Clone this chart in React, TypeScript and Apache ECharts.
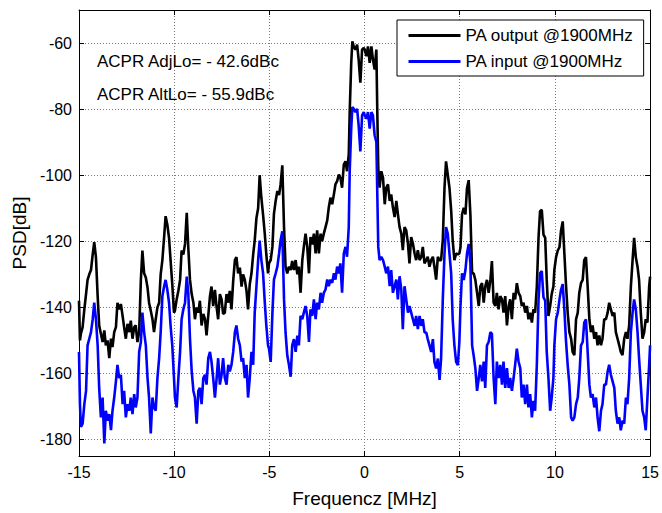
import React, { useEffect, useRef } from "react";
import * as echarts from "echarts";

// Frequency grid (MHz) of the traced samples
const freq = [
  -15.0, -14.95, -14.9, -14.81, -14.72, -14.63, -14.55, -14.46, -14.37, -14.28,
  -14.2, -14.11, -14.02, -13.94, -13.85, -13.76, -13.67, -13.59, -13.5, -13.41,
  -13.32, -13.24, -13.15, -13.06, -12.98, -12.89, -12.8, -12.71, -12.63, -12.54,
  -12.45, -12.36, -12.28, -12.19, -12.1, -12.02, -11.93, -11.84, -11.75, -11.67,
  -11.58, -11.49, -11.4, -11.32, -11.23, -11.14, -11.06, -10.97, -10.88, -10.79,
  -10.71, -10.62, -10.53, -10.45, -10.36, -10.27, -10.19, -10.1, -10.01,
  -9.96, -9.87, -9.78, -9.69, -9.61, -9.52, -9.43, -9.34, -9.26, -9.17,
  -9.08, -8.99, -8.91, -8.82, -8.73, -8.65, -8.56, -8.47, -8.38, -8.3,
  -8.21, -8.12, -8.04, -7.95, -7.86, -7.77, -7.69, -7.6, -7.51, -7.43,
  -7.34, -7.25, -7.16, -7.08, -6.99, -6.9, -6.81, -6.73, -6.64, -6.55,
  -6.46, -6.38, -6.29, -6.2, -6.12, -6.03, -5.94, -5.85, -5.77, -5.68,
  -5.59, -5.51, -5.42, -5.33, -5.24, -5.16, -5.07,
  -5.02, -4.93, -4.84, -4.76, -4.67, -4.58, -4.49, -4.41, -4.32, -4.23,
  -4.15, -4.06, -3.97, -3.88, -3.8, -3.71, -3.62, -3.53, -3.45, -3.36,
  -3.27, -3.19, -3.1, -3.01, -2.92, -2.84, -2.75, -2.66, -2.57, -2.49,
  -2.4, -2.31, -2.23, -2.14, -2.05, -1.96, -1.88, -1.79, -1.7, -1.61,
  -1.53, -1.44, -1.35, -1.27, -1.18, -1.09, -1.0, -0.92, -0.83,
  -0.78, -0.7, -0.64, -0.57, -0.48, -0.39, -0.31, -0.22, -0.13, -0.04,
  0.01, 0.1, 0.18, 0.27, 0.36, 0.44, 0.53, 0.62, 0.67, 0.72,
  0.79, 0.88, 0.97, 1.06, 1.14, 1.23, 1.32, 1.4, 1.49, 1.58,
  1.67, 1.75, 1.84, 1.93, 2.01, 2.1, 2.19, 2.28, 2.36, 2.45,
  2.54, 2.63, 2.71, 2.8, 2.89, 2.98, 3.06, 3.15, 3.24, 3.32,
  3.41, 3.5, 3.59, 3.67, 3.76, 3.85, 3.94, 4.02, 4.11, 4.2,
  4.28, 4.37, 4.46, 4.55, 4.63, 4.72, 4.81, 4.9, 4.98,
  5.04, 5.12, 5.21, 5.3, 5.38, 5.47, 5.56, 5.65, 5.73, 5.82,
  5.91, 6.0, 6.08, 6.17, 6.26, 6.34, 6.43, 6.52, 6.61, 6.69,
  6.78, 6.87, 6.95, 7.04, 7.13, 7.22, 7.3, 7.39, 7.48, 7.57,
  7.65, 7.74, 7.83, 7.91, 8.0, 8.09, 8.18, 8.26, 8.35, 8.44,
  8.53, 8.61, 8.7, 8.79, 8.87, 8.96, 9.05, 9.14, 9.22, 9.31,
  9.4, 9.49, 9.57, 9.66, 9.75, 9.83, 9.92,
  9.97, 10.06, 10.15, 10.24, 10.32, 10.41, 10.5, 10.58, 10.67, 10.76,
  10.85, 10.93, 11.02, 11.11, 11.2, 11.28, 11.37, 11.46, 11.54, 11.63,
  11.72, 11.81, 11.89, 11.98, 12.07, 12.16, 12.24, 12.33, 12.42, 12.5,
  12.59, 12.68, 12.77, 12.85, 12.94, 13.03, 13.12, 13.2, 13.29, 13.38,
  13.46, 13.55, 13.64, 13.73, 13.81, 13.9, 13.99, 14.08, 14.16, 14.25,
  14.34, 14.42, 14.51, 14.6, 14.69, 14.77, 14.86, 14.95, 15.0,
];

// PA output PSD (dB), black trace
const paOutput = [
  -138, -150, -148, -146, -140.6, -136, -131.7, -130, -128.7, -124,
  -120.3, -124.8, -136.6, -145.5, -148, -150.5, -147, -151.5, -150, -155.4,
  -149.5, -152, -147.5, -146, -138.6, -140.6, -139, -142.6, -146, -149.5,
  -145, -147.5, -144, -149.5, -146, -145.5, -150.5, -147.5, -131.7, -122.8,
  -129.7, -131, -134, -138.6, -141, -143.6, -147.5, -143.6, -140, -138.6,
  -130, -125.7, -118.8, -112.4, -115, -119, -125.7, -133, -141.6,
  -141, -137.6, -135, -131.7, -122.8, -124, -120.8, -111.4, -121.8, -131.7,
  -136, -138.6, -143.6, -140, -141.6, -138, -145.5, -142, -143.6, -148.5,
  -142.6, -136.6, -133.7, -139.6, -134.7, -140, -143.6, -136, -137.6, -142,
  -141.6, -136, -138.6, -135, -140.6, -132, -125.7, -124.8, -129.7, -128,
  -133.7, -130, -131.7, -135, -140.6, -133, -129.7, -124, -119.8, -113,
  -110, -100, -106.9, -112, -117.8, -124, -129.7,
  -126.7, -125.7, -121.7, -111.7, -107.8, -104.8, -106, -102.8, -97, -115.7,
  -127.7, -129.7, -127.7, -128.7, -126, -128.7, -125.7, -130, -127.7, -135.6,
  -125.7, -121.7, -117.7, -121.7, -129.7, -118.7, -121, -117.7, -123.7, -116.7,
  -123.7, -117.7, -120, -117.7, -115.7, -113.7, -109.8, -106.8, -108.8, -105.8,
  -102.8, -101.8, -99.8, -100.8, -103.8, -96.8, -95.8, -98.8, -93.8,
  -80.9, -66, -59.5, -61, -62, -60.5, -65, -72, -62, -61.5,
  -62, -64, -61, -66, -61, -65, -68, -62, -81, -97.8,
  -103.8, -98.8, -100.8, -108.8, -103.8, -102.8, -107.8, -105.8, -109.8, -112.7,
  -107.8, -111.7, -115.7, -117.7, -122.7, -115.7, -116.7, -120.7, -126.7, -118.7,
  -120.7, -123.7, -125.7, -122.7, -125.7, -124.7, -121.7, -126.7, -125.7, -124.7,
  -127.7, -125.7, -124.7, -127.7, -131.6, -124.7, -125.7, -125.7, -119.7, -103.8,
  -95.8, -99.8, -103.8, -110.7, -119.7, -125.7, -123.7, -124, -123.7,
  -121.8, -111.9, -109.9, -111.9, -104, -101.5, -111.9, -129.7, -129.7, -131.7,
  -135.6, -139.6, -133.7, -132.7, -138.6, -133.7, -131.7, -135.6, -131.7, -126,
  -138.6, -139.6, -135.6, -140.6, -136.6, -137.6, -141.6, -136.6, -145.5, -139.6,
  -137.6, -143.6, -135.6, -137.6, -132.7, -135.6, -136.6, -139.6, -138.6, -141.6,
  -139.6, -143.6, -141.6, -144.6, -140.6, -141.6, -133.7, -118.8, -110.9, -110.5,
  -118, -119, -131.7, -142.6, -139.6, -136, -133.7,
  -128.7, -124.8, -122.8, -121.8, -116.8, -114, -124, -133, -141.6, -147.5,
  -149.5, -153.5, -154.5, -143.6, -141.6, -135.6, -132.7, -131.7, -125.7, -124.8,
  -133.7, -143.6, -147.5, -145.5, -149.5, -147.5, -151.5, -148.5, -151.5, -149.5,
  -143.6, -143.6, -141.6, -138.6, -140.6, -142.6, -141.6, -147.5, -149.5, -151.5,
  -153.5, -154.5, -149.5, -147.5, -149.5, -145.5, -133.7, -125.7, -119, -124.8,
  -127.7, -131.7, -141.6, -149.5, -147.5, -143.6, -144.6, -133.7, -130.7,
];

// PA input PSD (dB), blue trace
const paInput = [
  -153.5, -169.3, -176.2, -175.2, -169.3, -165.3, -151.5, -149.5, -147.5, -143.6,
  -138.6, -143.6, -151.5, -164.4, -173.3, -167.3, -181.2, -171.3, -174.3, -172.3,
  -177.2, -171.3, -167.3, -162.4, -157.4, -161.4, -160.4, -169.3, -165.3, -173.3,
  -169.3, -171.3, -167.3, -172.3, -166.3, -170.3, -167.3, -153.5, -150.5, -141.6,
  -147.5, -151.5, -161.4, -167.3, -178.2, -167.3, -170.3, -171.3, -161.4, -155.4,
  -147.5, -136.6, -133.7, -131.7, -134.7, -138.6, -145.5, -151.5, -161.4,
  -167.3, -170.3, -161.4, -153.5, -143.6, -140.6, -138.6, -130.7, -135.6, -149.5,
  -159.4, -165.3, -167.3, -175.2, -165.3, -164.4, -169.3, -161.4, -160.4, -163.4,
  -155.4, -153.5, -156.4, -161.4, -167.3, -161.4, -155.4, -163.4, -160.4, -155.4,
  -161.4, -163.4, -157.4, -159.4, -157.4, -153.5, -147.5, -145.5, -149.5, -151.5,
  -156.4, -155.4, -161.4, -157.4, -167.3, -161.4, -153.5, -157.4, -141.6, -133.7,
  -125.7, -119.8, -125.7, -129.7, -138.6, -145.5, -151.5,
  -152.5, -156.5, -141.6, -131.6, -129.7, -127.7, -123.7, -119.7, -117, -137.6,
  -147.6, -154.5, -157.5, -161, -151.5, -149.6, -153.5, -148.6, -151.5, -142.6,
  -143.6, -141.6, -139.6, -142.6, -150.5, -140.6, -142.6, -137.6, -143.6, -138.6,
  -140.6, -135.6, -138.6, -135.6, -134.6, -131.6, -133.6, -131.6, -132.6, -129.7,
  -131.6, -127.7, -129.7, -126.7, -135.6, -123.7, -121.7, -124.7, -115.7,
  -98.8, -85.9, -79.4, -79.9, -80.9, -79.9, -84.9, -92.8, -81.9, -80.9,
  -81.9, -82.9, -80.9, -85.9, -80.9, -81.9, -87.9, -89.9, -105.8, -121.7,
  -125.7, -124.7, -125.7, -127.7, -129.7, -127.7, -133.6, -128.7, -135.6, -133.6,
  -131.6, -137.6, -130.6, -134.6, -146.6, -133.6, -137.6, -141.6, -139.6, -141.6,
  -143.6, -145.6, -142.6, -146.6, -142.6, -145.6, -143.6, -147.6, -147.6, -149.6,
  -151.5, -153.5, -149.6, -156.5, -158.5, -155.5, -162, -155.5, -137.6, -123.7,
  -115.7, -117.7, -123.7, -129.7, -143.6, -151.5, -156.5, -157.5, -150.5,
  -139.6, -129.7, -131.7, -128.7, -123.8, -120.8, -126.7, -151.5, -154.5, -158.4,
  -165.3, -161.4, -157.4, -162.4, -156.4, -164.4, -151.5, -150.5, -147.5, -148,
  -161.4, -169.3, -156.4, -161.4, -157.4, -163.4, -156.4, -164.4, -158.4, -164.4,
  -161.4, -165.3, -161.4, -157.4, -152.5, -156.4, -158.4, -167.3, -163.4, -169.3,
  -163.4, -170.3, -166.3, -173.3, -168.3, -171.3, -157.4, -137.6, -129.7, -129,
  -137, -138, -153.5, -161.4, -171.3, -167.3, -161.4,
  -151.5, -143.6, -141.6, -137.6, -134.7, -133, -141, -150, -157.4, -163.4,
  -173.3, -174.3, -173.3, -169.3, -167.3, -161.4, -151.5, -150.5, -144.6, -143.6,
  -153.5, -163.4, -167.3, -166.3, -170.3, -167.3, -173.3, -177.5, -171.3, -169.3,
  -163.4, -163.4, -159.4, -157.4, -160.4, -162.4, -164.4, -171.3, -175.2, -173.3,
  -177.2, -174.3, -175.2, -167.3, -169.3, -161.4, -147.5, -141.6, -137.6, -140.6,
  -147.5, -155.4, -163.4, -171.3, -173.3, -177.2, -167.3, -157.4, -151.5,
];

const yTicks = [-180, -160, -140, -120, -100, -80, -60];
const seriesNames = ["PA output @1900MHz", "PA input @1900MHz"];
const annotations = ["ACPR AdjLo= - 42.6dBc", "ACPR AltLo= - 55.9dBc"];
const xAxisTitle = "Frequencz [MHz]";
const yAxisTitle = "PSD[dB]";

export default function App() {
  const ref = useRef<HTMLDivElement>(null);

  useEffect(() => {
    if (!ref.current) return;
    const chart = echarts.init(ref.current, null, { renderer: "svg" });
    const font = "'Liberation Sans', Arial, Helvetica, sans-serif";
    const frameLine = { show: true, onZero: false, lineStyle: { color: "#000", width: 1 } };
    const grid = { show: true, lineStyle: { color: "#7a7a7a", width: 1, type: [1, 2] } };

    chart.setOption({
      animation: false,
      backgroundColor: "#fff",
      grid: { left: 79, right: 10, top: 10, bottom: 50, containLabel: false },
      xAxis: [
        {
          type: "value",
          min: -15,
          max: 15,
          interval: 5,
          position: "bottom",
          name: xAxisTitle,
          nameLocation: "middle",
          nameGap: 33,
          nameTextStyle: { fontSize: 19, color: "#000", fontFamily: font },
          axisLine: frameLine,
          axisTick: { show: true, inside: true, length: 5, lineStyle: { color: "#000" } },
          axisLabel: { fontSize: 16, color: "#000", margin: 8, fontFamily: font },
          splitLine: grid,
        },
        {
          type: "value",
          min: -15,
          max: 15,
          interval: 5,
          position: "top",
          axisLine: frameLine,
          axisTick: { show: true, inside: true, length: 5, lineStyle: { color: "#000" } },
          axisLabel: { show: false },
          splitLine: { show: false },
        },
      ],
      yAxis: [
        {
          type: "value",
          min: -185,
          max: -50,
          position: "left",
          name: yAxisTitle,
          nameLocation: "middle",
          nameGap: 48,
          nameRotate: 90,
          nameTextStyle: { fontSize: 19, color: "#000", fontFamily: font },
          axisLine: frameLine,
          axisTick: { show: true, inside: true, length: 5, customValues: yTicks, lineStyle: { color: "#000" } },
          axisLabel: { customValues: yTicks, fontSize: 16, color: "#000", margin: 7, fontFamily: font },
          splitLine: grid,
        },
        {
          type: "value",
          min: -185,
          max: -50,
          position: "right",
          axisLine: frameLine,
          axisTick: { show: true, inside: true, length: 5, customValues: yTicks, lineStyle: { color: "#000" } },
          axisLabel: { show: false, customValues: yTicks },
          splitLine: { show: false },
        },
      ],
      legend: {
        orient: "vertical",
        left: 397,
        top: 20,
        padding: [7, 10, 6, 10],
        itemGap: 9,
        itemWidth: 52,
        itemHeight: 18,
        backgroundColor: "#fff",
        borderColor: "#000",
        borderWidth: 1,
        borderRadius: 0,
        itemStyle: { opacity: 0, borderWidth: 0 },
        lineStyle: { width: 3 },
        textStyle: { fontSize: 17, color: "#000", fontFamily: font },
        data: seriesNames,
      },
      graphic: annotations.map((t, i) => ({
        type: "text",
        x: 97,
        y: 61 + i * 33,
        z: 20,
        style: {
          text: t,
          fill: "#000",
          fontSize: 17,
          fontFamily: font,
          verticalAlign: "middle",
          align: "left",
        },
      })),
      series: [
        {
          name: seriesNames[0],
          type: "line",
          xAxisIndex: 0,
          yAxisIndex: 0,
          symbol: "none",
          data: freq.map((f, i) => [f, paOutput[i]]),
          lineStyle: { color: "#000", width: 2.6 },
          itemStyle: { color: "#000" },
        },
        {
          name: seriesNames[1],
          type: "line",
          xAxisIndex: 0,
          yAxisIndex: 0,
          symbol: "none",
          data: freq.map((f, i) => [f, paInput[i]]),
          lineStyle: { color: "#0000ff", width: 2.6 },
          itemStyle: { color: "#0000ff" },
        },
      ],
    });

    return () => chart.dispose();
  }, []);

  return (
    <div
      ref={ref}
      style={{ position: "absolute", left: 0, top: 0, width: 662, height: 513 }}
    />
  );
}
